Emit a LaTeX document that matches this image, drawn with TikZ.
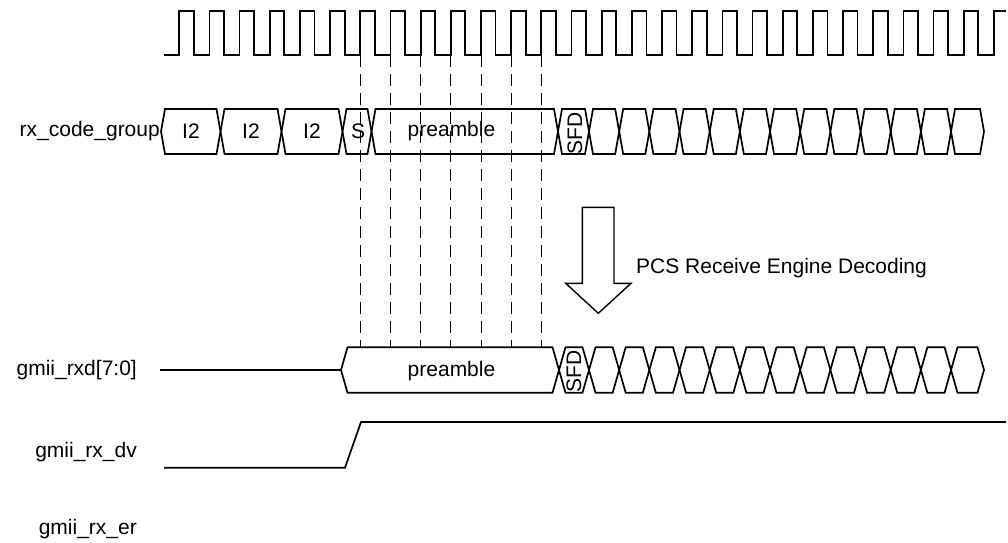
\documentclass[tikz,border=0pt]{standalone}
\usepackage{fontspec}
\setmainfont{Liberation Sans}
\usetikzlibrary{arrows.meta,positioning,calc}
\tikzset{
  sig/.style={line width=1.7pt},
  gridline/.style={line width=0.8pt,dash pattern=on 12pt off 7pt},
  lbl/.style={inner sep=0pt,font=\fontsize{21pt}{24pt}\selectfont},
}
% one bus segment: left, right, middle y, half height, slope
\newcommand\busbox[5]{%
  \draw[sig] ({#1},{#3}) -- ++({#5},{-#4}) -- ({#2-#5},{#3-#4}) -- ({#2},{#3})
    -- ({#2-#5},{#3+#4}) -- ({#1+#5},{#3+#4}) -- cycle;}
\begin{document}
\begin{tikzpicture}[x=1pt,y=-1pt]
\useasboundingbox (0,0) rectangle (1008,542);

% clock
\draw[sig] (164,55) foreach \k in {0,...,26} {
  -- ({179.3+30.17*\k},55) -- ({179.3+30.17*\k},11)
  -- ({193.8+30.17*\k},11) -- ({193.8+30.17*\k},55) }
  -- (993.9,55) -- (993.9,11) -- (1006,11);

% sampling edges
\foreach \k in {6,...,12}
  \draw[gridline] ({179.3+30.17*\k},55) -- ({179.3+30.17*\k},347);

% rx_code_group
\foreach \a/\b in {161/220.5,220.5/281.5,281.5/342.5,342.5/371.5,371.5/558,558/589}
  \busbox{\a}{\b}{131.5}{22.5}{4};
\foreach \k in {0,...,11}
  \busbox{589+30.17*\k}{619.17+30.17*\k}{131.5}{22.5}{4};
\busbox{951}{984}{131.5}{22.5}{4};

% gmii_rxd
\draw[sig] (160,370) -- (341,370);
\foreach \a/\b in {341/559,559/589}
  \busbox{\a}{\b}{370}{22.7}{6.5};
\foreach \k in {0,...,11}
  \busbox{589+30.17*\k}{619.17+30.17*\k}{370}{22.7}{6.5};
\busbox{951}{984}{370}{22.7}{6.5};

% gmii_rx_dv
\draw[sig] (164,467.7) -- (345,467.7) -- (361,422) -- (1006,422);

% decoding arrow
\draw[line width=1.4pt,fill=white] (582.3,207.3) -- (614,207.3) -- (614,283.3)
  -- (631,283.3) -- (598.3,313.3) -- (565.7,283.3) -- (582.3,283.3) -- cycle;

\node[lbl,anchor=east] (cgname) at (160,131.5) {rx\_code\_group};
\node[lbl] (idleA) at (191,131.5) {I2};
\node[lbl] (idleB) at (251,131.5) {I2};
\node[lbl] (idleC) at (312,131.5) {I2};
\node[lbl] (start) at (358,131.5) {S};
\node[lbl] (cgpre) at (451.5,131.5) {preamble};
\node[lbl,rotate=90] (cgsfd) at (575,133) {SFD};

\node[lbl,anchor=west] (engine) at (636,268) {PCS Receive Engine Decoding};

\node[lbl,anchor=east] (rxdname) at (137,370) {gmii\_rxd[7:0]};
\node[lbl] (rxdpre) at (451.5,371) {preamble};
\node[lbl,rotate=90] (rxdsfd) at (574,371) {SFD};
\node[lbl,anchor=east] (dvname) at (137,452) {gmii\_rx\_dv};
\node[lbl,anchor=east] (ername) at (137,529) {gmii\_rx\_er};
\end{tikzpicture}
\end{document}
